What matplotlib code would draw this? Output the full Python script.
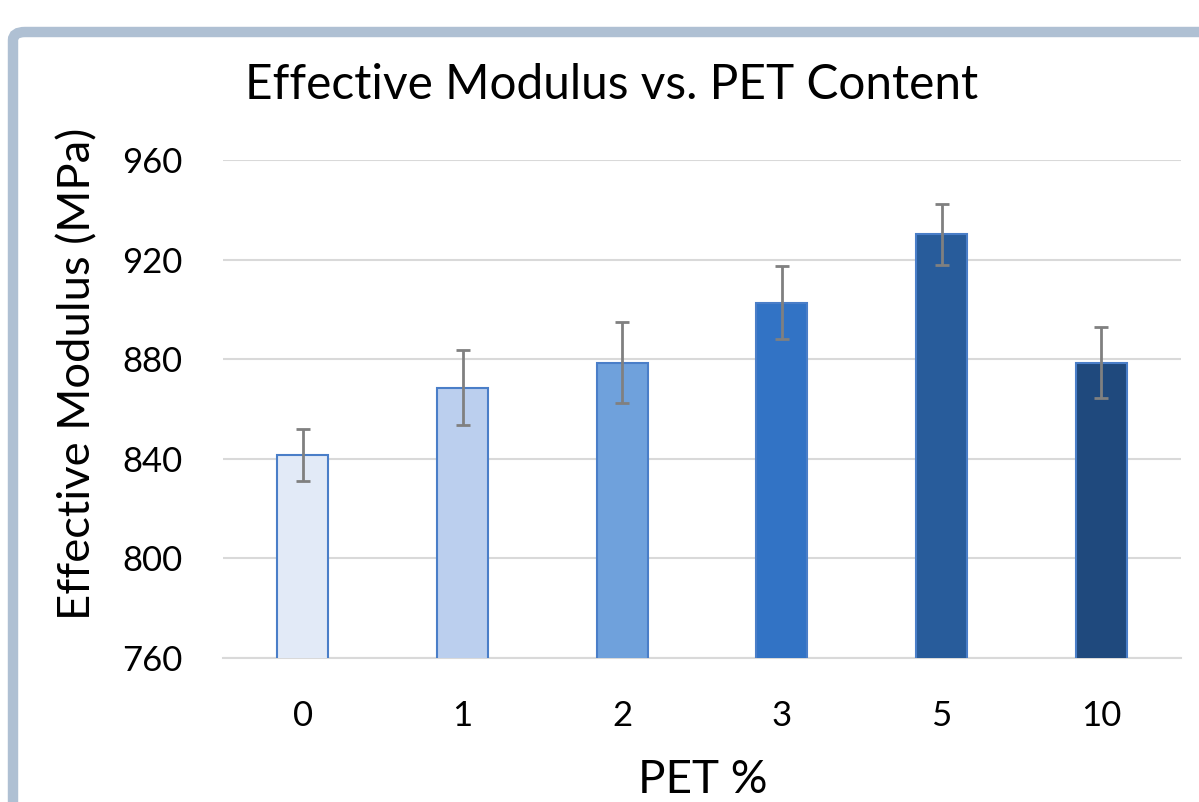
import matplotlib
matplotlib.use("Agg")
import matplotlib.pyplot as plt
from matplotlib.patches import FancyBboxPatch

categories = ["0", "1", "2", "3", "5", "10"]
values = [841.5, 868.5, 878.6, 902.7, 930.2, 878.6]
errors = [10.5, 15.0, 16.3, 14.7, 12.2, 14.3]
colors = ["#E2EAF7", "#BBCFEE", "#6FA1DC", "#3273C5", "#285C9B", "#1F497D"]
yticks = [760, 800, 840, 880, 920, 960]

plt.rcParams['font.family'] = ['Lato', 'DejaVu Sans']

fig = plt.figure(figsize=(11.99, 8.02), dpi=100)
W, H = 1199, 802

# frame
frame = FancyBboxPatch((13 / W, -0.1), 1.2, (802 - 32) / H + 0.1,
                       boxstyle="round,pad=0,rounding_size=0.01",
                       transform=fig.transFigure, facecolor="white",
                       edgecolor="#AFC0D3", linewidth=7.5, zorder=-5)
fig.patches.append(frame)

ax = fig.add_axes([223 / W, 1 - 658 / H, (1181 - 223) / W, (658 - 160) / H])
ax.set_zorder(2)
ax.set_facecolor("none")
x = list(range(len(categories)))
ax.bar(x, values, width=0.32, bottom=0, color=colors, edgecolor="#4A7EC8",
       linewidth=1.5, zorder=3)
ax.errorbar(x, values, yerr=errors, fmt="none", ecolor="#808080",
            elinewidth=2, capsize=5, capthick=2, zorder=4)
ax.set_xlim(-0.5, 5.5)
ax.set_ylim(760, 960)
ax.set_yticks(yticks)
ax.set_xticks(x)
ax.set_xticklabels(categories)
ax.grid(axis="y", color="#D9D9D9", linewidth=1.5, zorder=0)
ax.set_axisbelow(True)
for s in ["top", "right", "left"]:
    ax.spines[s].set_visible(False)
ax.spines["bottom"].set_color("#D9D9D9")
ax.spines["bottom"].set_linewidth(1.5)
ax.tick_params(axis="both", length=0, labelsize=25, colors="black")
ax.tick_params(axis="y", pad=29)
ax.tick_params(axis="x", pad=30)

fig.text(612 / W, 1 - 85 / H, "Effective Modulus vs. PET Content",
         fontsize=34.4, ha="center", va="center")
fig.text(78 / W, 1 - 374 / H, "Effective Modulus (MPa)", fontsize=32.7,
         rotation=90, ha="center", va="center")
fig.text(703 / W, 1 - 780 / H, "PET %", fontsize=33, ha="center", va="center")

fig.savefig("out.png", dpi=100)
